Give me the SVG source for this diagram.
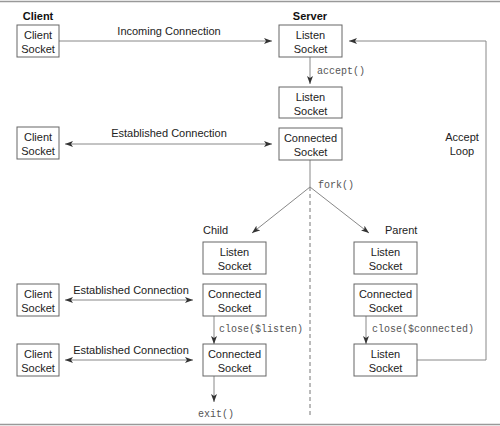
<svg xmlns="http://www.w3.org/2000/svg" width="500" height="426" viewBox="0 0 500 426">
<defs>
<style>
.box{fill:#fff;stroke:#666;stroke-width:1}
.t{font-family:"Liberation Sans",Arial,sans-serif;font-size:11px;fill:#222;text-anchor:middle}
.h{font-family:"Liberation Sans",Arial,sans-serif;font-size:11px;font-weight:bold;fill:#111;text-anchor:middle}
.l{font-family:"Liberation Sans",Arial,sans-serif;font-size:11px;fill:#222}
.m{font-family:"Liberation Mono","Courier New",monospace;font-size:10px;fill:#555}
.c{fill:none;stroke:#888;stroke-width:1}
.d{fill:none;stroke:#777;stroke-width:1;stroke-dasharray:4 3}
.frame{stroke:#999;stroke-width:1.5}
</style>
<marker id="arr" viewBox="0 0 8 6" refX="8" refY="3" markerWidth="8" markerHeight="6" markerUnits="userSpaceOnUse" orient="auto-start-reverse">
<path d="M0,0 L8,3 L0,6 L2,3 z" fill="#333"/>
</marker>
</defs>
<rect width="500" height="426" fill="#fff"/>
<line class="frame" x1="0" y1="1.5" x2="500" y2="1.5"/>
<line class="frame" x1="0" y1="424.5" x2="500" y2="424.5"/>

<text class="h" x="38" y="20">Client</text>
<text class="h" x="310" y="20">Server</text>

<g id="connectors">
<line class="c" x1="59" y1="41" x2="272" y2="41" marker-end="url(#arr)"/>
<line class="c" x1="65" y1="144" x2="272" y2="144" marker-start="url(#arr)" marker-end="url(#arr)"/>
<line class="c" x1="310" y1="57" x2="310" y2="84" marker-end="url(#arr)"/>
<polyline class="c" points="417,360 486,360 486,41 349,41" marker-end="url(#arr)"/>
<line class="c" x1="310" y1="160" x2="310" y2="187"/>
<line class="d" x1="310" y1="187" x2="310" y2="418"/>
<line class="c" x1="310" y1="187" x2="252" y2="233" marker-end="url(#arr)"/>
<line class="c" x1="310" y1="187" x2="369" y2="233" marker-end="url(#arr)"/>
<line class="c" x1="65" y1="300" x2="193" y2="300" marker-start="url(#arr)" marker-end="url(#arr)"/>
<line class="c" x1="65" y1="360" x2="193" y2="360" marker-start="url(#arr)" marker-end="url(#arr)"/>
<line class="c" x1="214" y1="316" x2="214" y2="344" marker-end="url(#arr)"/>
<line class="c" x1="366" y1="316" x2="366" y2="344" marker-end="url(#arr)"/>
<line class="c" x1="214" y1="376" x2="214" y2="402" marker-end="url(#arr)"/>
<text class="t" x="169" y="35">Incoming Connection</text>
<text class="t" x="169" y="137">Established Connection</text>
<text class="t" x="131" y="294">Established Connection</text>
<text class="t" x="131" y="354">Established Connection</text>
<text class="t" x="462" y="141">Accept</text>
<text class="t" x="462" y="155">Loop</text>
<text class="m" x="317" y="74">accept()</text>
<text class="m" x="318" y="188">fork()</text>
<text class="m" x="219" y="332">close($listen)</text>
<text class="m" x="372" y="332">close($connected)</text>
<text class="m" x="198" y="417">exit()</text>
<text class="l" x="203" y="234">Child</text>
<text class="l" x="385" y="234">Parent</text>
</g>

<g id="client1"><rect class="box" x="17" y="25" width="42" height="32"/><text class="t" x="38" y="39">Client</text><text class="t" x="38" y="53">Socket</text></g>
<g id="server-listen"><rect class="box" x="279" y="25" width="63" height="32"/><text class="t" x="310.5" y="39">Listen</text><text class="t" x="310.5" y="53">Socket</text></g>
<g id="server-listen2"><rect class="box" x="279" y="87" width="63" height="31"/><text class="t" x="310.5" y="101">Listen</text><text class="t" x="310.5" y="115">Socket</text></g>
<g id="server-connected"><rect class="box" x="279" y="128" width="63" height="32"/><text class="t" x="310.5" y="142">Connected</text><text class="t" x="310.5" y="156">Socket</text></g>
<g id="client2"><rect class="box" x="17" y="127" width="42" height="32"/><text class="t" x="38" y="141">Client</text><text class="t" x="38" y="155">Socket</text></g>
<g id="child-listen"><rect class="box" x="203" y="242" width="63" height="32"/><text class="t" x="234.5" y="256">Listen</text><text class="t" x="234.5" y="270">Socket</text></g>
<g id="parent-listen"><rect class="box" x="354" y="242" width="63" height="32"/><text class="t" x="385.5" y="256">Listen</text><text class="t" x="385.5" y="270">Socket</text></g>
<g id="child-connected"><rect class="box" x="203" y="284" width="63" height="32"/><text class="t" x="234.5" y="298">Connected</text><text class="t" x="234.5" y="312">Socket</text></g>
<g id="parent-connected"><rect class="box" x="354" y="284" width="63" height="32"/><text class="t" x="385.5" y="298">Connected</text><text class="t" x="385.5" y="312">Socket</text></g>
<g id="client3"><rect class="box" x="17" y="284" width="42" height="32"/><text class="t" x="38" y="298">Client</text><text class="t" x="38" y="312">Socket</text></g>
<g id="child-connected2"><rect class="box" x="203" y="344" width="63" height="32"/><text class="t" x="234.5" y="358">Connected</text><text class="t" x="234.5" y="372">Socket</text></g>
<g id="parent-listen2"><rect class="box" x="354" y="344" width="63" height="32"/><text class="t" x="385.5" y="358">Listen</text><text class="t" x="385.5" y="372">Socket</text></g>
<g id="client4"><rect class="box" x="17" y="344" width="42" height="32"/><text class="t" x="38" y="358">Client</text><text class="t" x="38" y="372">Socket</text></g>
</svg>
